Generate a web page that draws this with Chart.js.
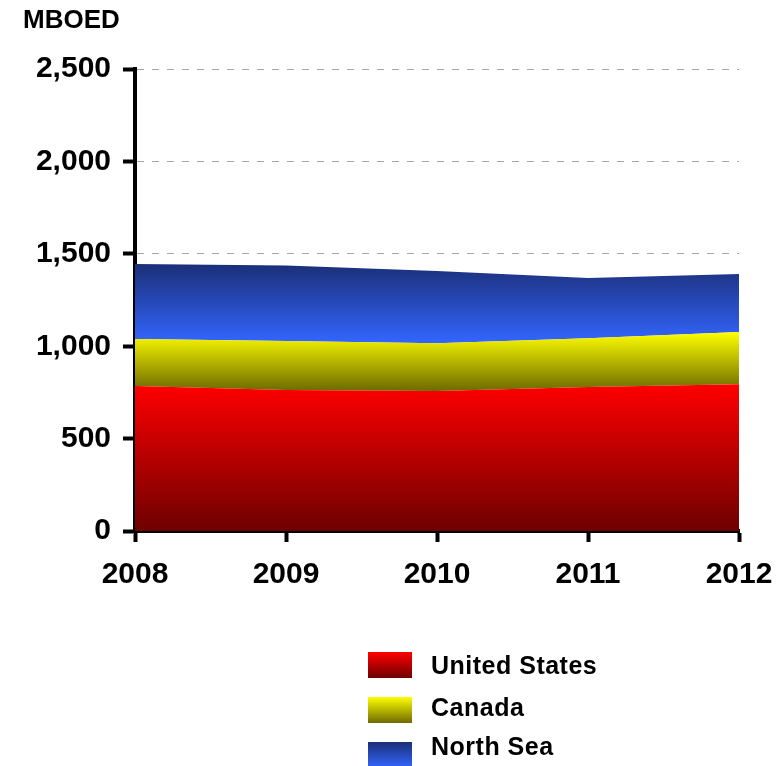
<!DOCTYPE html>
<html>
<head>
<meta charset="utf-8">
<script src="https://cdn.jsdelivr.net/npm/chart.js@4.4.1/dist/chart.umd.min.js"></script>
<style>
  body { margin: 0; background: #fff; }
  #wrap { position: relative; width: 781px; height: 766px; overflow: hidden; }
  #legenda { position: absolute; left: 368px; top: 0; font: bold 25px "Liberation Sans", Arial, sans-serif; letter-spacing: 0.5px; color: #000; }
  .caixa { position: absolute; left: 0; width: 44px; height: 26px; }
  .texto { position: absolute; left: 63px; line-height: 30px; white-space: nowrap; }
</style>
</head>
<body>
<div id="wrap">
  <canvas id="grafico" width="781" height="766"></canvas>
  <div id="legenda"></div>
</div>
<script>
// producao por regiao (MBOED)
var anos = ["2008", "2009", "2010", "2011", "2012"];
var series = ["United States", "Canada", "North Sea"];
var estadosUnidos = [785, 763, 758, 779, 795];
var canada = [254, 265, 259, 265, 282];
var marDoNorte = [406, 409, 390, 325, 314];
var ticksY = [0, 500, 1000, 1500, 2000, 2500];

// cor do topo e cor da base de cada faixa
var coresTopo = ["#ff0000", "#ffff00", "#1b2f78"];
var coresBase = ["#6e0000", "#6e6a00", "#3366ff"];

var fonte = "'Liberation Sans', Arial, sans-serif";

// gradiente vertical que vai do ponto mais alto ao ponto mais baixo da faixa
function corFaixa(c) {
  var chart = c.chart;
  var i = c.datasetIndex;
  if (!chart.chartArea) return coresTopo[i];
  var dados = chart.data.datasets;
  var topo = [], base = [];
  for (var k = 0; k < anos.length; k++) {
    var soma = 0;
    for (var d = 0; d < i; d++) soma += dados[d].data[k];
    base.push(soma);
    topo.push(soma + dados[i].data[k]);
  }
  var y = chart.scales.y;
  var y1 = y.getPixelForValue(Math.max.apply(null, topo));
  var y2 = y.getPixelForValue(Math.min.apply(null, base));
  var g = chart.ctx.createLinearGradient(0, y1, 0, y2);
  g.addColorStop(0, coresTopo[i]);
  g.addColorStop(1, coresBase[i]);
  return g;
}

var valores = [estadosUnidos, canada, marDoNorte];
var datasets = valores.map(function (v, i) {
  return {
    label: series[i],
    data: v,
    fill: i == 0 ? "origin" : "-1",
    backgroundColor: corFaixa,
    borderWidth: 0,
    pointRadius: 0,
    tension: 0,
  };
});

var graf = document.getElementById("grafico").getContext("2d");
var grafico = new Chart(graf, {
  type: "line",
  data: { labels: anos, datasets: datasets },
  options: {
    responsive: false,
    animation: false,
    layout: { padding: { left: 23, right: 42, top: 0, bottom: 0 } },
    plugins: {
      legend: { display: false },
      tooltip: { enabled: false },
      title: {
        display: true,
        text: "MBOED",
        align: "start",
        color: "#000",
        font: { family: fonte, size: 26, weight: "bold", lineHeight: 1.2 },
        padding: { top: 5, bottom: 33 },
      },
    },
    scales: {
      x: {
        offset: false,
        afterFit: function (s) {
          s.height = 235;
          // o rotulo 2012 pode passar da borda, sem encolher a area
          s.paddingLeft = 0;
          s.paddingRight = 0;
        },
        grid: { drawOnChartArea: false, tickLength: 11, tickColor: "#000", tickWidth: 4 },
        border: { color: "#000", width: 4 },
        ticks: {
          color: "#000",
          padding: 15,
          maxRotation: 0,
          font: { family: fonte, size: 30, weight: "bold" },
        },
      },
      y: {
        stacked: true,
        min: 0,
        max: 2500,
        afterFit: function (s) { s.width = 112; },
        afterBuildTicks: function (s) {
          s.ticks = ticksY.map(function (v) { return { value: v }; });
        },
        grid: {
          color: "#a6a6a6",
          lineWidth: 1,
          tickLength: 12,
          tickColor: "#000",
          tickWidth: 4,
          tickBorderDash: [],
        },
        border: { color: "#000", width: 4, dash: [7, 8] },
        ticks: {
          color: "#000",
          padding: 12,
          font: { family: fonte, size: 30, weight: "bold" },
          callback: function (v) { return v.toLocaleString("en-US"); },
        },
      },
    },
  },
});

// legenda em html, montada a partir das series
var topoCaixa = [652, 697, 742];
var topoTexto = [650, 692, 731];
var leg = document.getElementById("legenda");
series.forEach(function (nome, i) {
  leg.innerHTML +=
    "<div class='caixa' style='top:" + topoCaixa[i] + "px;background:linear-gradient(" + coresTopo[i] + "," + coresBase[i] + ")'></div>" +
    "<div class='texto' style='top:" + topoTexto[i] + "px'>" + nome + "</div>";
});
</script>
</body>
</html>
